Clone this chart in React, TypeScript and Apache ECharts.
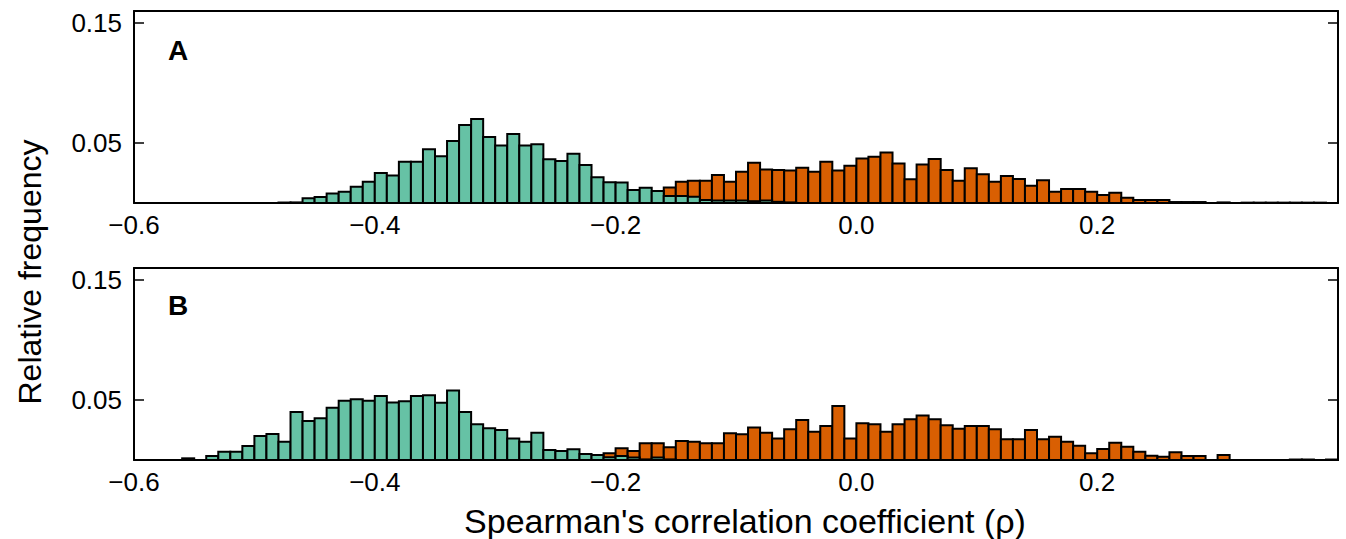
import React, { useEffect, useRef } from "react";
import * as echarts from "echarts";

// Histogram bins: left edge -0.60, width 0.01, 100 bins up to 0.40
const BIN_START = -0.6;
const BIN_WIDTH = 0.01;

const xTicks = [-0.6, -0.4, -0.2, 0.0, 0.2];
const yTicks = [0.05, 0.15];
const panelLabels = ["A", "B"];
const xTitle = "Spearman's correlation coefficient (ρ)";
const yTitle = "Relative frequency";

// Panel A
const greenA = [
  0, 0, 0, 0, 0, 0, 0, 0, 0, 0,
  0, 0, 0.0004, 0.0005, 0.004, 0.005, 0.008, 0.0094, 0.0136, 0.0178,
  0.025, 0.023, 0.0344, 0.0344, 0.0447, 0.039, 0.0517, 0.065, 0.07, 0.055,
  0.048, 0.0575, 0.048, 0.049, 0.0364, 0.035, 0.041, 0.0317, 0.0214, 0.0172,
  0.017, 0.0108, 0.0128, 0.01, 0.0058, 0.0058, 0.0053, 0.0025, 0.002, 0.002,
  0.002, 0.0015, 0.002, 0.001, 0.0005, 0, 0, 0, 0, 0,
  0, 0, 0, 0, 0, 0, 0, 0, 0, 0,
  0, 0, 0, 0, 0, 0, 0, 0, 0, 0,
  0, 0, 0, 0, 0, 0, 0, 0, 0, 0,
  0, 0, 0, 0, 0, 0, 0, 0, 0, 0,
];
const orangeA = [
  0, 0, 0, 0, 0, 0, 0, 0, 0, 0,
  0, 0, 0, 0, 0, 0, 0, 0, 0, 0,
  0, 0, 0, 0, 0, 0, 0, 0, 0, 0,
  0, 0, 0, 0, 0, 0, 0, 0, 0.002, 0.003,
  0.004, 0.006, 0.007, 0.008, 0.013, 0.0178, 0.0186, 0.0186, 0.0233, 0.0178,
  0.026, 0.0336, 0.028, 0.0275, 0.027, 0.0294, 0.026, 0.0344, 0.027, 0.031,
  0.037, 0.0386, 0.042, 0.033, 0.0197, 0.032, 0.0367, 0.0275, 0.0186, 0.029,
  0.024, 0.0178, 0.0225, 0.02, 0.0144, 0.019, 0.0094, 0.0117, 0.0117, 0.0094,
  0.0067, 0.0086, 0.0044, 0.0025, 0.0025, 0.0025, 0.0008, 0.0008, 0.0008, 0,
  0.0005, 0, 0.0003, 0.0003, 0.0003, 0.0003, 0.0003, 0.0003, 0.0003, 0,
];

// Panel B
const greenB = [
  0, 0, 0, 0, 0.0014, 0, 0.0033, 0.0069, 0.0069, 0.0117,
  0.02, 0.0217, 0.0153, 0.04, 0.0325, 0.0347, 0.0436, 0.0494, 0.0506, 0.0494,
  0.0533, 0.048, 0.049, 0.0533, 0.054, 0.0478, 0.058, 0.04, 0.0297, 0.0264,
  0.025, 0.018, 0.0153, 0.0228, 0.0083, 0.0075, 0.0089, 0.005, 0.0042, 0.0022,
  0.0033, 0.002, 0.0005, 0.002, 0.0005, 0, 0, 0, 0, 0,
  0, 0, 0, 0, 0, 0, 0, 0, 0, 0,
  0, 0, 0, 0, 0, 0, 0, 0, 0, 0,
  0, 0, 0, 0, 0, 0, 0, 0, 0, 0,
  0, 0, 0, 0, 0, 0, 0, 0, 0, 0,
  0, 0, 0, 0, 0, 0, 0, 0, 0, 0,
];
const orangeB = [
  0, 0, 0, 0, 0, 0, 0, 0, 0, 0,
  0, 0, 0, 0, 0, 0, 0, 0, 0, 0,
  0, 0, 0, 0, 0, 0, 0, 0, 0, 0,
  0, 0, 0, 0, 0, 0, 0, 0, 0.003, 0.0056,
  0.0097, 0.0075, 0.0139, 0.0139, 0.0106, 0.0158, 0.0153, 0.0139, 0.0139, 0.0222,
  0.0214, 0.027, 0.0228, 0.018, 0.0256, 0.0333, 0.0236, 0.0283, 0.045, 0.018,
  0.0306, 0.0297, 0.0236, 0.0297, 0.034, 0.037, 0.034, 0.029, 0.026, 0.0283,
  0.0283, 0.0256, 0.0172, 0.0172, 0.025, 0.0172, 0.0194, 0.0153, 0.0119, 0.0056,
  0.0092, 0.0144, 0.011, 0.0069, 0.0036, 0.0028, 0.0064, 0.0033, 0.0033, 0,
  0.0042, 0, 0, 0, 0, 0, 0.0004, 0.0004, 0, 0.0004,
];

const GREEN = "#66c2a5";
const ORANGE = "#d95f02";
const FONT = "'Liberation Sans', Arial, sans-serif";

const toBins = (vals: number[]) =>
  vals
    .map((v, i) => [BIN_START + i * BIN_WIDTH, BIN_START + (i + 1) * BIN_WIDTH, v])
    .filter((d) => d[2] > 0);

const fmtX = (v: number) => v.toFixed(1).replace("-", "\u2212");

export default function App() {
  const ref = useRef<HTMLDivElement>(null);

  useEffect(() => {
    if (!ref.current) return;
    const chart = echarts.init(ref.current, undefined, { renderer: "svg" });

    const grids = [
      { left: 134, top: 11, width: 1204, height: 192 },
      { left: 134, top: 268, width: 1204, height: 192 },
    ];

    const frameLine = { show: true, onZero: false, lineStyle: { color: "#000", width: 2 } };
    const yTick = {
      show: true,
      inside: true,
      length: 10,
      customValues: yTicks,
      lineStyle: { color: "#000", width: 1.5 },
    };

    const xAxes: any[] = [];
    const yAxes: any[] = [];
    grids.forEach((_, gi) => {
      xAxes.push({
        type: "value",
        gridIndex: gi,
        position: "bottom",
        min: -0.6,
        max: 0.4,
        z: 10,
        axisLine: frameLine,
        axisTick: { show: false },
        splitLine: { show: false },
        axisLabel: {
          customValues: xTicks,
          formatter: (v: number) => fmtX(v),
          fontSize: 26,
          color: "#000",
          fontFamily: FONT,
          margin: 9,
        },
      });
      xAxes.push({
        type: "value",
        gridIndex: gi,
        position: "top",
        min: -0.6,
        max: 0.4,
        z: 10,
        axisLine: frameLine,
        axisTick: { show: false },
        splitLine: { show: false },
        axisLabel: { show: false },
      });
      yAxes.push({
        type: "value",
        gridIndex: gi,
        position: "left",
        min: 0,
        max: 0.16,
        z: 10,
        axisLine: frameLine,
        axisTick: yTick,
        splitLine: { show: false },
        axisLabel: {
          customValues: yTicks,
          formatter: (v: number) => v.toFixed(2),
          fontSize: 26,
          color: "#000",
          fontFamily: FONT,
          margin: 12,
        },
      });
      yAxes.push({
        type: "value",
        gridIndex: gi,
        position: "right",
        min: 0,
        max: 0.16,
        z: 10,
        axisLine: frameLine,
        axisTick: yTick,
        splitLine: { show: false },
        axisLabel: { show: false },
      });
    });

    const histSeries = (vals: number[], color: string, gi: number, z: number) => ({
      type: "custom",
      xAxisIndex: gi * 2,
      yAxisIndex: gi * 2,
      z,
      data: toBins(vals),
      encode: { x: [0, 1], y: 2 },
      renderItem: (params: any, api: any) => {
        const p0 = api.coord([api.value(0), api.value(2)]);
        const p1 = api.coord([api.value(1), 0]);
        return {
          type: "rect",
          shape: { x: p0[0], y: p0[1], width: p1[0] - p0[0], height: p1[1] - p0[1] },
          style: { fill: color, stroke: "#000", lineWidth: 2 },
        };
      },
    });

    chart.setOption({
      animation: false,
      backgroundColor: "#fff",
      grid: grids,
      xAxis: xAxes,
      yAxis: yAxes,
      series: [
        histSeries(orangeA, ORANGE, 0, 2),
        histSeries(greenA, GREEN, 0, 3),
        histSeries(orangeB, ORANGE, 1, 2),
        histSeries(greenB, GREEN, 1, 3),
      ],
      graphic: [
        {
          type: "text",
          x: 168,
          y: 50,
          style: {
            text: panelLabels[0],
            font: `bold 28px ${FONT}`,
            fill: "#000",
            verticalAlign: "middle",
          },
        },
        {
          type: "text",
          x: 168,
          y: 305,
          style: {
            text: panelLabels[1],
            font: `bold 28px ${FONT}`,
            fill: "#000",
            verticalAlign: "middle",
          },
        },
        {
          type: "text",
          x: 745,
          y: 521,
          style: {
            text: xTitle,
            font: `34px ${FONT}`,
            fill: "#000",
            align: "center",
            verticalAlign: "middle",
          },
        },
        {
          type: "text",
          x: 30,
          y: 272,
          rotation: Math.PI / 2,
          style: {
            text: yTitle,
            font: `32px ${FONT}`,
            fill: "#000",
            align: "center",
            verticalAlign: "middle",
          },
        },
      ],
    });

    return () => chart.dispose();
  }, []);

  return (
    <div
      ref={ref}
      style={{ position: "fixed", left: 0, top: 0, width: 1346, height: 539 }}
    />
  );
}
